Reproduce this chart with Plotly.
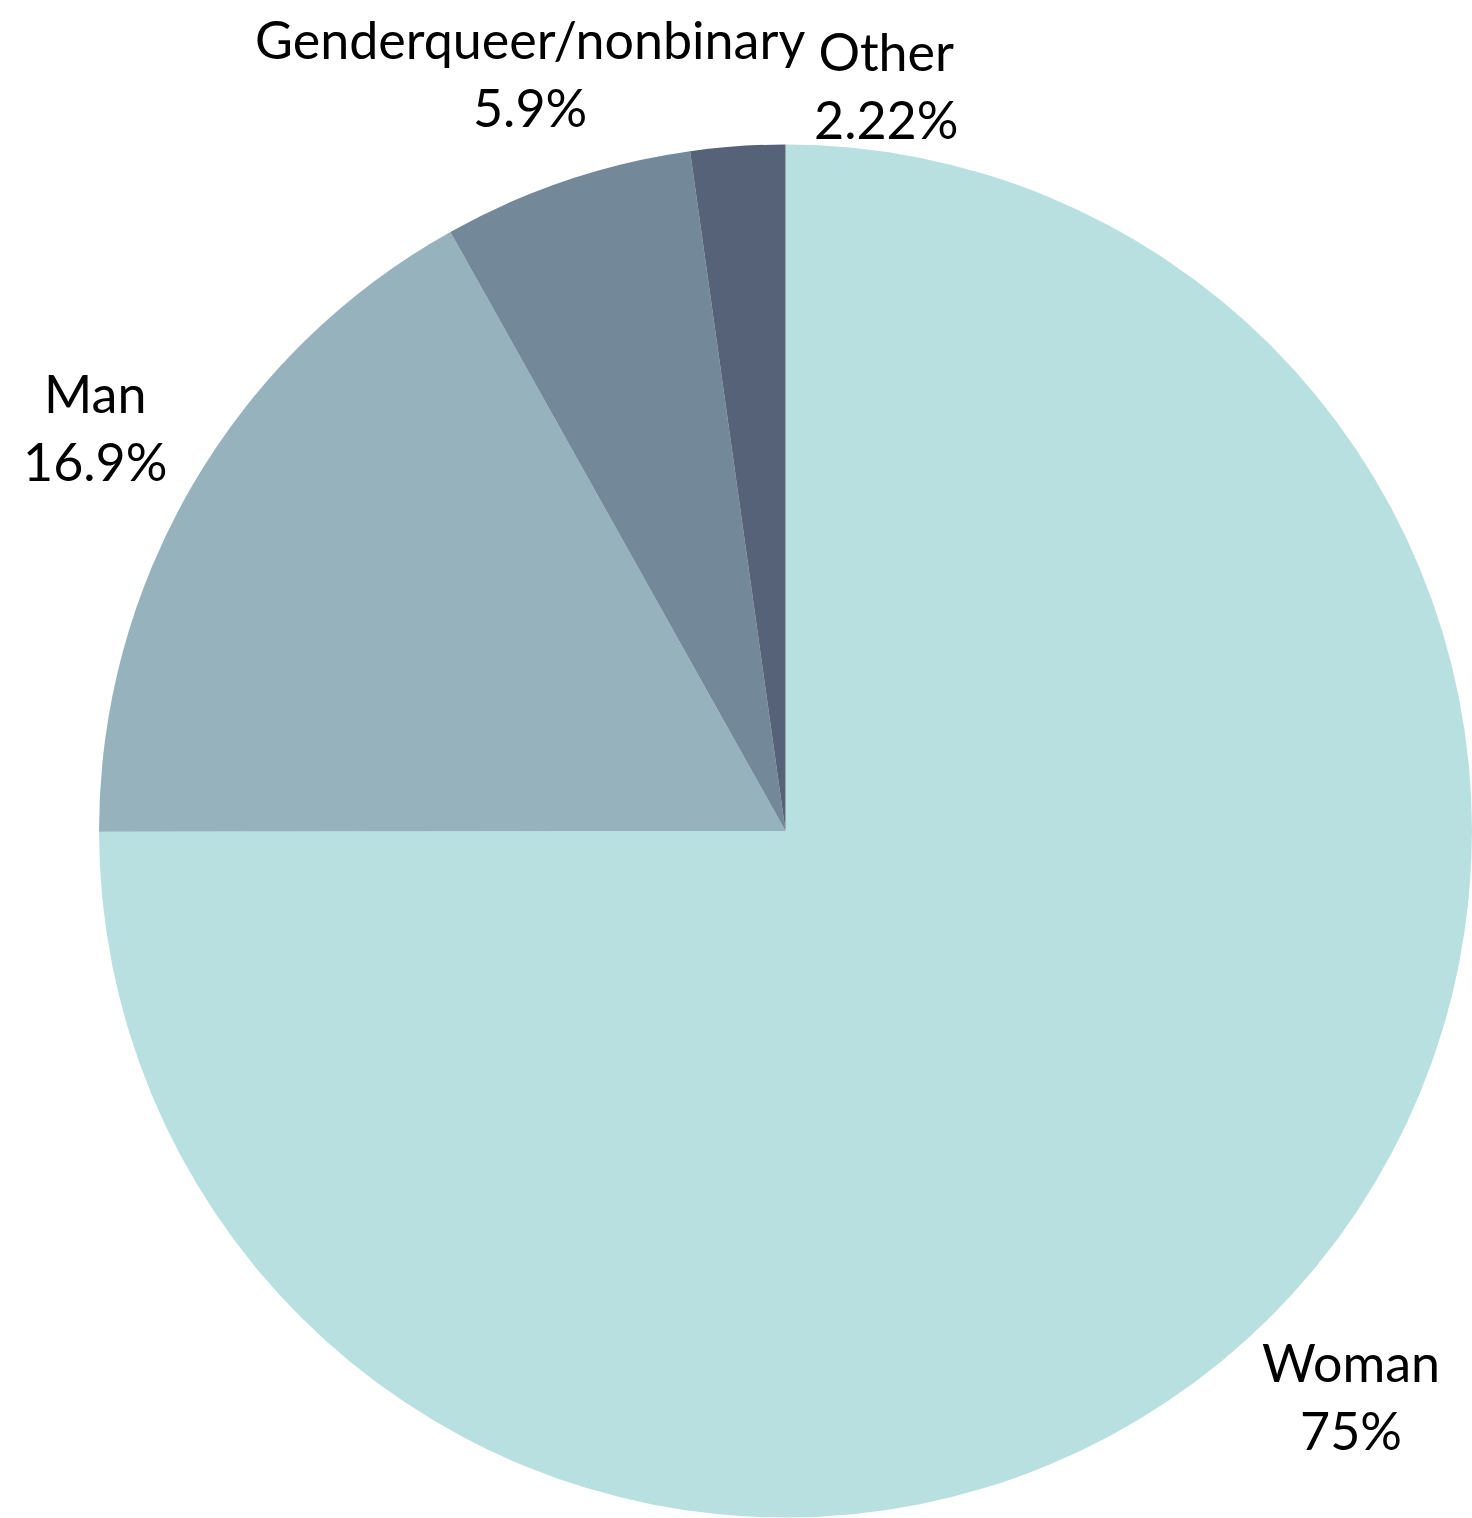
import math
import plotly.graph_objects as go

# Gender identity shares (percent of respondents)
labels = ["Woman", "Man", "Genderqueer/nonbinary", "Other"]
values = [75.0, 16.9, 5.9, 2.22]
colors = ["#B9E0E0", "#95B2BD", "#738899", "#566278"]

W, H = 1472, 1518
M = dict(l=99, r=0, t=144, b=0)
FONT = dict(family="Lato", size=52, color="#000000")

fig = go.Figure(
    go.Pie(
        labels=labels,
        values=values,
        sort=False,
        direction="clockwise",
        rotation=0,
        textinfo="none",
        marker=dict(colors=colors, line=dict(width=0)),
        showlegend=False,
        hoverinfo="label+percent",
    )
)

# Pie geometry in pixels (plot area is the pie's domain)
pw = W - M["l"] - M["r"]
ph = H - M["t"] - M["b"]
cx = M["l"] + pw / 2
cy = M["t"] + ph / 2
r = min(pw, ph) / 2

# Labels sit outside each slice along its mid-angle
total = sum(values)
label_dist = 1.165
nudge = {"Other": (156, -52)}  # keep the small slice's label clear of its neighbour
cum = 0.0
for lab, v in zip(labels, values):
    mid = math.radians((cum + v / 2) / total * 360)
    cum += v
    px = cx + label_dist * r * math.sin(mid)
    py = cy - label_dist * r * math.cos(mid)
    dx, dy = nudge.get(lab, (0, 0))
    pct = f"{v / total * 100:.3g}%"
    fig.add_annotation(
        x=(px - M["l"]) / pw,
        y=1 - (py - M["t"]) / ph,
        xref="paper",
        yref="paper",
        text=f"{lab}<br>{pct}",
        showarrow=False,
        xanchor="center",
        yanchor="middle",
        align="center",
        xshift=dx,
        yshift=dy,
        font=FONT,
    )

fig.update_layout(
    width=W,
    height=H,
    margin=M,
    paper_bgcolor="white",
    plot_bgcolor="white",
    font=FONT,
)

fig.write_html("out.html")
